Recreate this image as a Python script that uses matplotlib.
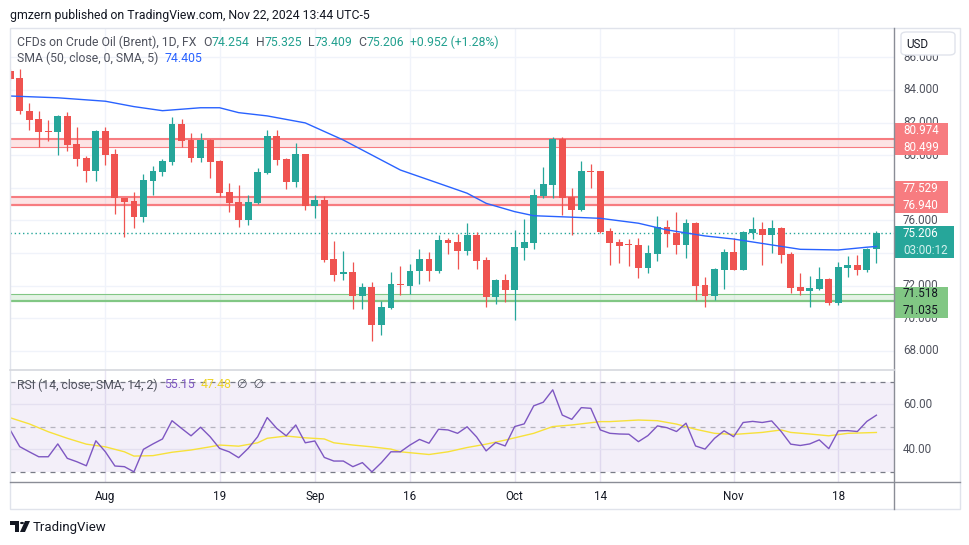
import matplotlib
matplotlib.use('Agg')
import matplotlib.pyplot as plt
import numpy as np
from matplotlib.patches import Rectangle, FancyBboxPatch, Polygon, Circle
from matplotlib.transforms import blended_transform_factory
from matplotlib.lines import Line2D

plt.rcParams['font.family'] = ['Roboto', 'DejaVu Sans']

# Daily Brent CFD candles, Jul 18 -> Nov 22 2024 (one row per trading day)
opens = [85.16, 84.74, 82.71, 82.22, 81.50, 81.44, 82.41, 80.69, 79.83, 79.05,
         81.49, 80.08, 77.36, 77.21, 76.23, 78.44, 78.99, 79.60, 81.92, 80.93,
         79.85, 80.93, 79.65, 77.75, 77.13, 76.05, 77.09, 78.93, 81.18, 79.79,
         78.38, 80.08, 76.91, 77.28, 73.64, 72.70, 72.81, 71.39, 71.92, 69.59,
         70.63, 72.09, 71.98, 72.87, 73.64, 72.87, 74.80, 74.68, 74.13, 75.11,
         73.58, 71.31, 72.35, 71.74, 74.31, 74.62, 77.50, 78.18, 81.00, 77.44,
         76.64, 79.03, 79.03, 75.35, 74.68, 74.53, 74.50, 73.09, 73.94, 75.60,
         75.23, 74.50, 75.85, 72.04, 71.37, 72.96, 74.07, 72.96, 75.23, 75.48,
         75.11, 75.54, 73.94, 71.92, 71.68, 71.80, 72.41, 70.94, 73.09, 73.27,
         72.96, 74.254]
highs = [85.30, 85.29, 83.18, 82.71, 82.16, 82.47, 82.65, 81.73, 79.95, 81.55,
         81.73, 80.38, 77.40, 77.75, 78.85, 79.34, 79.77, 82.35, 82.22, 81.36,
         81.36, 81.00, 79.71, 78.30, 78.17, 77.54, 79.22, 81.55, 81.55, 79.83,
         80.75, 80.10, 77.58, 77.52, 74.74, 74.13, 73.47, 72.17, 72.25, 71.06,
         72.84, 73.21, 73.33, 74.25, 74.07, 75.11, 74.93, 75.17, 75.85, 75.29,
         73.76, 72.38, 72.72, 75.42, 76.09, 77.93, 79.28, 81.12, 81.12, 77.99,
         79.65, 79.46, 79.05, 75.54, 74.86, 74.86, 74.93, 74.50, 76.27, 76.03,
         76.52, 76.09, 75.90, 72.53, 73.09, 74.25, 74.93, 75.35, 76.21, 75.91,
         76.03, 75.60, 74.07, 72.78, 72.60, 73.15, 72.47, 73.45, 73.82, 73.88,
         74.31, 75.325]
lows = [84.60, 82.53, 81.55, 80.49, 80.89, 80.01, 80.28, 79.34, 78.38, 78.44,
        79.42, 76.42, 75.00, 75.56, 75.93, 77.56, 78.73, 79.42, 80.49, 79.60,
        79.60, 78.62, 77.46, 76.54, 75.62, 75.74, 77.03, 78.87, 79.42, 77.95,
        78.07, 76.66, 76.17, 73.47, 72.31, 72.35, 70.57, 70.57, 68.63, 68.98,
        70.57, 71.43, 71.49, 72.12, 72.31, 72.80, 73.94, 73.03, 73.88, 73.03,
        70.70, 70.88, 70.99, 69.90, 73.58, 74.25, 77.38, 77.38, 76.34, 75.11,
        76.60, 77.99, 75.20, 73.27, 73.39, 73.21, 72.47, 72.78, 73.52, 74.37,
        73.94, 73.70, 71.12, 70.70, 71.12, 71.80, 72.96, 72.96, 74.86, 73.27,
        74.01, 73.39, 71.55, 71.43, 70.70, 71.74, 70.82, 70.82, 72.53, 72.66,
        72.84, 73.409]
closes = [84.70, 82.70, 82.16, 81.44, 81.45, 82.41, 80.65, 79.79, 79.05, 81.49,
          80.03, 77.36, 77.15, 76.23, 78.48, 79.03, 79.65, 81.92, 80.89, 79.85,
          80.93, 79.60, 77.70, 77.09, 76.05, 77.13, 78.97, 81.18, 79.73, 78.38,
          80.08, 76.91, 77.28, 73.58, 72.66, 72.81, 71.39, 71.92, 69.59, 70.70,
          72.11, 72.03, 72.90, 73.64, 72.87, 74.80, 74.64, 74.13, 75.11, 73.52,
          71.31, 72.35, 71.74, 74.37, 74.68, 77.56, 78.24, 81.00, 77.38, 76.64,
          79.03, 78.98, 75.29, 74.62, 74.44, 74.47, 73.09, 74.01, 75.60, 75.17,
          74.50, 75.85, 71.98, 71.37, 73.03, 74.07, 72.96, 75.29, 75.48, 75.11,
          75.54, 73.88, 71.86, 71.68, 71.86, 72.41, 70.94, 73.15, 73.27, 72.96,
          74.25, 75.206]

# SMA(50) at some bars
sma_idx = [0, 5, 10, 13, 16, 20, 22, 24, 27, 31, 35, 38, 41, 45, 48, 50, 53,
           55, 59, 62, 66, 69, 73, 76, 80, 83, 87, 90, 91]
sma_val = [83.63, 83.52, 83.31, 82.98, 82.73, 82.91, 82.91, 82.61, 82.41, 81.98,
           80.93, 80.01, 79.09, 78.28, 77.67, 77.05, 76.54, 76.29, 76.20, 76.13,
           75.83, 75.42, 75.05, 74.86, 74.50, 74.23, 74.19, 74.36, 74.405]

# RSI(14), one value per bar
rsi = [48.6, 41.2, 38.9, 36.7, 36.7, 42.4, 36.0, 34.5, 32.7, 43.8,
       38.9, 32.6, 32.3, 30.0, 40.0, 42.4, 44.6, 52.7, 49.3, 46.0,
       49.8, 45.6, 40.4, 38.9, 36.3, 40.4, 45.6, 54.1, 49.3, 46.0,
       50.8, 42.9, 43.7, 36.4, 34.8, 34.8, 32.3, 34.1, 30.0, 34.1,
       38.9, 38.9, 41.9, 44.4, 42.7, 48.9, 48.6, 47.1, 50.0, 45.5,
       39.3, 43.0, 41.5, 50.1, 51.3, 59.3, 60.9, 66.4, 55.2, 53.3,
       58.5, 58.2, 48.6, 47.1, 46.8, 46.7, 43.4, 46.1, 50.4, 49.6,
       47.9, 51.6, 41.5, 40.1, 44.9, 48.2, 45.6, 51.9, 52.4, 51.9,
       52.6, 47.9, 42.3, 41.7, 42.4, 44.2, 40.3, 48.2, 48.3, 47.9,
       52.4, 55.15]
# SMA(14) of the RSI, read at some bars
rsi_ma_idx = [0, 2, 4, 6, 8, 10, 12, 13, 15, 17, 19, 21, 22, 24, 26, 27, 29, 31,
              33, 34, 36, 38, 40, 41, 44, 46, 48, 50, 52, 55, 57, 59, 62, 63, 66,
              68, 70, 72, 74, 76, 79, 81, 82, 84, 86, 88, 91]
rsi_ma_val = [54.0, 51.3, 47.8, 44.9, 42.3, 41.1, 38.9, 37.0, 37.2, 38.7, 39.7,
              41.1, 41.9, 41.4, 42.9, 44.9, 45.9, 45.1, 44.6, 42.9, 41.9, 41.1,
              40.1, 38.9, 37.7, 38.9, 40.8, 42.3, 44.1, 47.1, 50.1, 50.8, 52.3,
              52.3, 53.0, 52.7, 51.2, 48.9, 47.1, 46.6, 47.5, 48.6, 47.5, 46.8,
              46.0, 47.1, 47.48]

tick_idx = [10, 22, 32, 42, 53, 62, 76, 87]
tick_lab = ['Aug', '19', 'Sep', '16', 'Oct', '14', 'Nov', '18']

zones_red = [(80.974, 80.499), (77.529, 76.940)]
zone_green = (71.518, 71.035)
last_price = 75.206

UP, DOWN = '#26A69A', '#EF5350'
GRID = '#F0F3FA'
TXT = '#131722'
GRAY = '#50535E'

W, H = 970, 545
fig = plt.figure(figsize=(W / 100, H / 100), dpi=100)
fig.patch.set_facecolor('white')


def fr(x, y):
    return (x / W, 1 - y / H)


ax = fig.add_axes([10 / W, 1 - 370 / H, 884 / W, 342 / H])
rax = fig.add_axes([10 / W, 1 - 482 / H, 884 / W, 112 / H], sharex=ax)
for a in (ax, rax):
    for s in a.spines.values():
        s.set_visible(False)
    a.tick_params(left=False, bottom=False, labelleft=False, labelbottom=False)

ax.set_xlim(-0.02, 92.85)
ax.set_ylim(66.83, 87.80)
rax.set_ylim(25.5, 75.2)
ppu = 342 / (87.80 - 66.83)

x = np.arange(len(closes))
o, h, l, c = map(np.array, (opens, highs, lows, closes))
col = np.where(c >= o, UP, DOWN)

# grid
for p in range(68, 88, 2):
    ax.axhline(p, color=GRID, lw=1, zorder=0)
for t in tick_idx:
    ax.axvline(t, color=GRID, lw=1, zorder=0)
    rax.axvline(t, color='#E9E5F3', lw=1, zorder=0)

# zones
for top, bot in zones_red:
    ax.axhspan(bot, top, color='#F77C80', alpha=0.2, lw=0, zorder=1)
    ax.axhline(top, color='#F77C80', lw=1.5 if top > 80 else 0.8, zorder=1)
    ax.axhline(bot, color='#F77C80', lw=0.8 if top > 80 else 1.6, zorder=1)
ax.axhline(77.42, color='#F77C80', lw=0.8, zorder=1)
ax.axhspan(zone_green[1], zone_green[0], color='#81C784', alpha=0.2, lw=0, zorder=1)
ax.axhline(zone_green[0], color='#81C784', lw=0.8, zorder=1)
ax.axhline(zone_green[1], color='#81C784', lw=1.6, zorder=1)

# candles
ax.vlines(x, l, h, colors=col, lw=0.9, zorder=3)
body = np.maximum(np.abs(c - o), 1.0 / ppu)
ax.bar(x, body, bottom=np.minimum(o, c), width=0.72, color=col, lw=0, zorder=4)

ax.plot(sma_idx, sma_val, color='#2962FF', lw=1, zorder=5)
ax.axhline(last_price, color=UP, lw=1, ls=(0, (1, 2)), zorder=2)

# RSI pane
rax.axhspan(30, 70, color='#7E57C2', alpha=0.09, lw=0, zorder=0)
for v in (40, 60):
    rax.axhline(v, color='#E4E0F0', lw=1, zorder=0)
rax.axhline(70, color='#787B86', lw=0.9, ls=(0, (4, 4)), zorder=1)
rax.axhline(30, color='#787B86', lw=0.9, ls=(0, (4, 4)), zorder=1)
rax.axhline(50, color='#787B86', lw=0.9, ls=(0, (4, 4)), alpha=0.5, zorder=1)
rax.plot(x, rsi, color='#7E57C2', lw=1, zorder=3)
rax.plot(rsi_ma_idx, rsi_ma_val, color='#F7E13A', lw=1, zorder=2)

fs = 8.4
tr = blended_transform_factory(ax.transAxes, ax.transData)
rtr = blended_transform_factory(rax.transAxes, rax.transData)
lx = 1 + 9 / 884
for p in range(68, 88, 2):
    ax.text(lx, p, f'{p:.3f}', transform=tr, fontsize=fs, color=GRAY,
            va='center', ha='left', clip_on=False, zorder=8)
for v in (40, 60):
    rax.text(lx, v, f'{v:.2f}', transform=rtr, fontsize=fs, color=GRAY,
             va='center', ha='left', clip_on=False)
for t, s in zip(tick_idx, tick_lab):
    rax.text(t, -0.13, s, transform=blended_transform_factory(rax.transData, rax.transAxes),
             fontsize=fs, color=TXT, ha='center', va='center', clip_on=False)


def tag(lines, anchor, first, face, tcols, wpx):
    step = 16.8 / ppu
    c0 = anchor if first else anchor + step
    c1 = c0 - step
    top, bot = c0 + 7 / ppu, c1 - 7.5 / ppu
    ax.add_patch(Rectangle((1.0, bot), wpx / 884, top - bot, transform=tr,
                           facecolor=face, edgecolor='none', clip_on=False, zorder=10))
    for cc, s, tc in zip((c0, c1), lines, tcols):
        ax.text(lx, cc, s, transform=tr, color=tc, fontsize=fs, va='center',
                ha='left', clip_on=False, zorder=11)


tag(['80.974', '80.499'], zones_red[0][1], False, '#F77C80', ['white', 'white'], 54)
tag(['77.529', '76.940'], zones_red[1][1], False, '#F77C80', ['white', 'white'], 54)
tag(['75.206', '03:00:12'], last_price, True, UP, ['white', '#D4F1EE'], 60)
tag(['71.518', '71.035'], zone_green[0], True, '#81C784', [TXT, TXT], 54)

# frame and separators
fig.add_artist(Rectangle(fr(10, 509), 950 / W, 481 / H, transform=fig.transFigure,
                         facecolor='none', edgecolor='#E0E3EB', lw=1))
fig.add_artist(Line2D([894 / W] * 2, [1 - 28 / H, 1 - 509 / H], color='#8A8D96', lw=1))
fig.add_artist(Line2D([10 / W, 960 / W], [1 - 482 / H] * 2, color='#8A8D96', lw=1))
fig.add_artist(Line2D([10 / W, 894 / W], [1 - 370 / H] * 2, color='#D6D8DE', lw=1.2))
fig.add_artist(FancyBboxPatch(fr(901, 55), 54 / W, 23 / H, transform=fig.transFigure,
                              boxstyle='round,pad=0,rounding_size=0.006',
                              facecolor='white', edgecolor='#E0E3EB', lw=1, zorder=5))
fig.text(*fr(906, 44), 'USD', fontsize=fs, color=TXT, va='center', zorder=6)

renderer = fig.canvas.get_renderer()


def segments(x0, y0, parts, size):
    xp = x0
    for s, colr, gap in parts:
        t = fig.text(*fr(xp, y0), s, fontsize=size, color=colr, va='center', ha='left', zorder=6)
        xp += t.get_window_extent(renderer).width + gap


fig.text(*fr(10, 15), 'gmzern published on TradingView.com, Nov 22, 2024 13:44 UTC-5',
         fontsize=8.8, color=TXT, va='center')
VAL = '#22A08F'
segments(17, 42, [('CFDs on Crude Oil (Brent), 1D, FX', GRAY, 7),
                  ('O', GRAY, 0), ('74.254', VAL, 6),
                  ('H', GRAY, 0), ('75.325', VAL, 6),
                  ('L', GRAY, 0), ('73.409', VAL, 6),
                  ('C', GRAY, 0), ('75.206', VAL, 6),
                  ('+0.952 (+1.28%)', VAL, 0)], 8.8)
segments(17, 58, [('SMA (50, close, 0, SMA, 5)', GRAY, 6), ('74.405', '#2962FF', 0)], 8.8)
segments(17, 385, [('RSI (14, close, SMA, 14, 2)', GRAY, 6), ('55.15', '#7E57C2', 6),
                   ('47.48', '#EED52A', 6), ('∅  ∅', GRAY, 0)], 8.8)

# TradingView logo
fig.add_artist(Polygon([fr(10, 521), fr(19, 521), fr(19, 532), fr(15, 532), fr(15, 525), fr(10, 525)],
                       closed=True, transform=fig.transFigure, facecolor=TXT, edgecolor='none'))
fig.add_artist(Circle(fr(22, 523), 2.0 / W, transform=fig.transFigure, facecolor=TXT, edgecolor='none'))
fig.add_artist(Polygon([fr(25, 521), fr(30, 521), fr(25, 532), fr(20, 532)], closed=True,
                       transform=fig.transFigure, facecolor=TXT, edgecolor='none'))
fig.text(*fr(33, 527), 'TradingView', fontsize=9.5, color=TXT, va='center')

fig.savefig('out.png', dpi=100)
